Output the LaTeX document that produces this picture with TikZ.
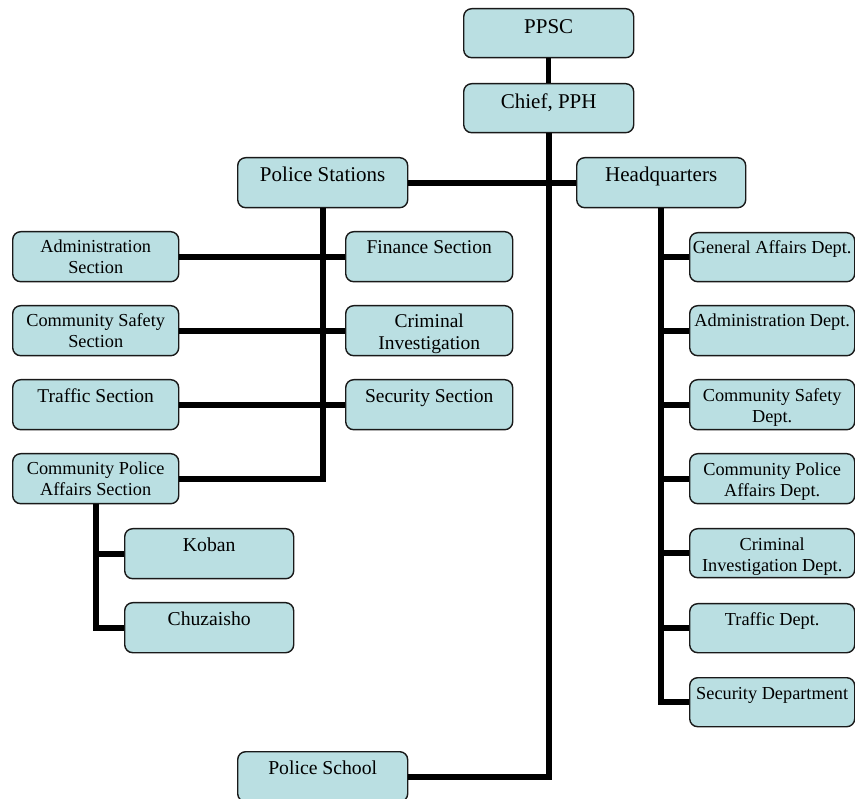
\documentclass[tikz,border=0pt]{standalone}
\usepackage{fontspec}
\setmainfont{Liberation Serif}
\definecolor{unitfill}{RGB}{186,223,226}
\tikzset{
  unit/.style={draw=black!90, line width=1.4pt, fill=unitfill, rounded corners=8pt,
               inner sep=0pt, anchor=north west},
  fbig/.style={font=\fontsize{21}{24}\selectfont},
  fmid/.style={font=\fontsize{19.7}{22.5}\selectfont},
  fsec/.style={font=\fontsize{19.5}{22.5}\selectfont},
  fsml/.style={font=\fontsize{18.3}{21}\selectfont},
  link/.style={line width=6pt, line join=miter},
}
% #1 name, #2 x, #3 y (top left), #4 width, #5 height, #6 first baseline, #7 font style, #8 text
\newcommand\orgunit[8]{%
  \node[unit,#7] (#1) at (#2,#3)
    {\parbox[c][#5pt][t]{#4pt}{\centering\rule{0pt}{#6pt}#8}};}
\begin{document}
\begin{tikzpicture}[x=1pt,y=-1pt]
\useasboundingbox (0,0) rectangle (855,799);

% top level
\orgunit{ppsc}{463}{8}{170}{49}{24.5}{fbig}{PPSC}
\orgunit{chief}{463}{83}{170}{49}{24.5}{fbig}{Chief, PPH}
\orgunit{ps}{237}{157}{170}{50}{23.5}{fbig}{Police Stations}
\orgunit{hq}{576}{157}{169}{50}{23.5}{fbig}{Headquarters}
\orgunit{school}{237}{751}{170}{50}{22.5}{fmid}{Police School}

% police station sections
\orgunit{adm}{12}{231}{166}{50}{21.3}{fsml}{Administration\\Section}
\orgunit{csafe}{12}{305}{166}{50}{21.3}{fsml}{Community Safety\\Section}
\orgunit{traf}{12}{379}{166}{50}{22.5}{fsec}{Traffic Section}
\orgunit{cpa}{12}{453}{166}{50}{21.3}{fsml}{Community Police\\Affairs Section}
\orgunit{fin}{345}{231}{167}{50}{22.3}{fsec}{Finance Section}
\orgunit{crim}{345}{305}{167}{50}{21.7}{fsec}{Criminal\\Investigation}
\orgunit{sec}{345}{379}{167}{50}{22.5}{fsec}{Security Section}
\orgunit{koban}{124}{528}{169}{50}{23}{fmid}{Koban}
\orgunit{chuz}{124}{602}{169}{50}{23}{fmid}{Chuzaisho}

% headquarters departments
\orgunit{dga}{689}{232}{165}{49}{20.5}{fsml}{General Affairs Dept.}
\orgunit{dadm}{689}{305}{165}{50}{20.5}{fsml}{Administration Dept.}
\orgunit{dcs}{689}{379}{165}{50}{21.5}{fsml}{Community Safety\\Dept.}
\orgunit{dcpa}{689}{453}{165}{50}{21.5}{fsml}{Community Police\\Affairs Dept.}
\orgunit{dcrim}{689}{528}{165}{49}{21.5}{fsml}{Criminal\\Investigation Dept.}
\orgunit{dtraf}{689}{603}{165}{49}{21.5}{fsml}{Traffic Dept.}
\orgunit{dsec}{689}{677}{165}{49}{21.5}{fsml}{Security Department}

% lines of authority
\draw[link, line width=5pt] (ppsc.south) -- (chief.north);
\draw[link] (chief.south) |- (school.east);
\draw[link] (ps.east) -- (hq.west);
\draw[link] (ps.south) |- (cpa.east);
\draw[link] (adm.east) -- (fin.west);
\draw[link] (csafe.east) -- (crim.west);
\draw[link] (traf.east) -- (sec.west);
\draw[link] (cpa.south) |- (koban.west);
\draw[link] (cpa.south) |- (chuz.west);
\foreach \d in {dga,dadm,dcs,dcpa,dcrim,dtraf,dsec}
  \draw[link] (hq.south) |- (\d.west);
\end{tikzpicture}
\end{document}
